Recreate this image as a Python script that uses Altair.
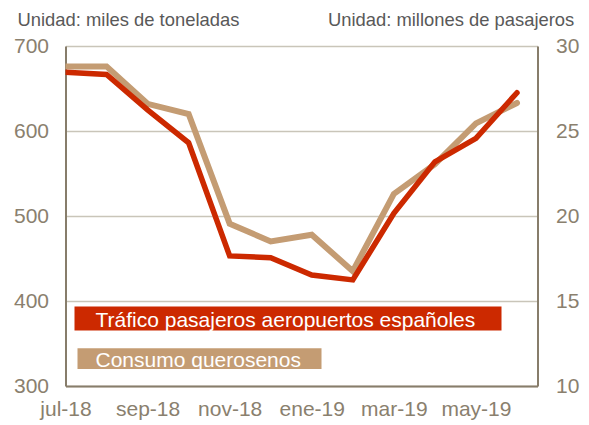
import json
import altair as alt
import pandas as pd

# ---- data ----
months = ["jul-18", "ago-18", "sep-18", "oct-18", "nov-18", "dic-18",
          "ene-19", "feb-19", "mar-19", "abr-19", "may-19", "jun-19"]
# Consumo querosenos (miles de toneladas, left axis)
keros = [676, 676, 632, 620, 491, 470, 478, 435, 526, 561, 609, 633]
# Tráfico pasajeros aeropuertos españoles (millones, right axis)
pax = [28.45, 28.33, 26.24, 24.31, 17.65, 17.55, 16.53, 16.24, 20.16, 23.19, 24.57, 27.25]

left_ticks = [300, 400, 500, 600, 700]
right_ticks = [10, 15, 20, 25, 30]
x_label_idx = [0, 2, 4, 6, 8, 10]
legend_labels = ["Tráfico pasajeros aeropuertos españoles", "Consumo querosenos"]
left_title = "Unidad: miles de toneladas"
right_title = "Unidad: millones de pasajeros"

RED = "#CC2900"
TAN = "#C49C73"
AXIS_C = "#877D6B"
LABEL_C = "#8A806E"
GRID_C = "#C9C5B9"
TITLE_C = "#595959"
FS = 21

df = pd.DataFrame({"idx": list(range(len(months))), "mes": months,
                   "keros": keros, "pax": pax})

x_enc = alt.X(
    "idx:Q",
    scale=alt.Scale(domain=[0, 11.5], nice=False, zero=False),
    axis=alt.Axis(values=x_label_idx,
                  labelExpr=json.dumps(months) + "[datum.value]",
                  grid=False, ticks=False, domainColor=AXIS_C, domainWidth=2,
                  labelColor=LABEL_C, labelFontSize=FS, labelPadding=12,
                  labelFlush=False, title=None),
)

base = alt.Chart(df)

tan_line = base.mark_line(color=TAN, strokeWidth=6, clip=True, strokeCap="round").encode(
    x=x_enc,
    y=alt.Y("keros:Q",
            scale=alt.Scale(domain=[300, 700], nice=False, zero=False),
            axis=alt.Axis(orient="left", values=left_ticks, grid=True,
                          gridColor=GRID_C, gridWidth=1.5, ticks=False,
                          domainColor=AXIS_C, domainWidth=2,
                          labelColor=LABEL_C, labelFontSize=FS, labelPadding=17,
                          title=left_title, titleAngle=0, titleAlign="left",
                          titleBaseline="alphabetic", titleX=-48.5, titleY=-20.5,
                          titleFontSize=18.4, titleColor=TITLE_C,
                          titleFontWeight="normal")),
)

red_line = base.mark_line(color=RED, strokeWidth=5.5, clip=True, strokeCap="round").encode(
    x=x_enc,
    y=alt.Y("pax:Q",
            scale=alt.Scale(domain=[10, 30], nice=False, zero=False),
            axis=alt.Axis(orient="right", values=right_ticks, grid=False,
                          ticks=False, domainColor=AXIS_C, domainWidth=2,
                          labelColor=LABEL_C, labelFontSize=FS, labelPadding=18,
                          title=right_title, titleAngle=0, titleAlign="right",
                          titleBaseline="alphabetic", titleX=36.3, titleY=-20.5,
                          titleFontSize=18.4, titleColor=TITLE_C,
                          titleFontWeight="normal")),
)

leg_df0 = pd.DataFrame({"l": [legend_labels[0]]})
leg_df1 = pd.DataFrame({"l": [legend_labels[1]]})

leg_red_rect = alt.Chart(leg_df0).mark_rect(color=RED).encode(
    x=alt.value(9), x2=alt.value(436), y=alt.value(260.5), y2=alt.value(284.5))
leg_red_text = alt.Chart(leg_df0).mark_text(
    color="white", fontSize=FS, align="left", baseline="alphabetic").encode(
    x=alt.value(30), y=alt.value(281), text="l:N")
leg_tan_rect = alt.Chart(leg_df1).mark_rect(color=TAN).encode(
    x=alt.value(12), x2=alt.value(256), y=alt.value(302.3), y2=alt.value(323))
leg_tan_text = alt.Chart(leg_df1).mark_text(
    color="white", fontSize=FS, align="left", baseline="alphabetic").encode(
    x=alt.value(30), y=alt.value(320.5), text="l:N")

chart = alt.layer(
    tan_line, red_line, leg_red_rect, leg_red_text, leg_tan_rect, leg_tan_text
).resolve_scale(y="independent").properties(
    width=472, height=340,
    autosize=alt.AutoSizeParams(type="none"),
    padding={"left": 57.5, "top": 38, "right": 43.5, "bottom": 39},
).configure(font="Liberation Sans").configure_view(stroke=None)

chart.save("out.html", embed_options={"renderer": "svg", "actions": False})
